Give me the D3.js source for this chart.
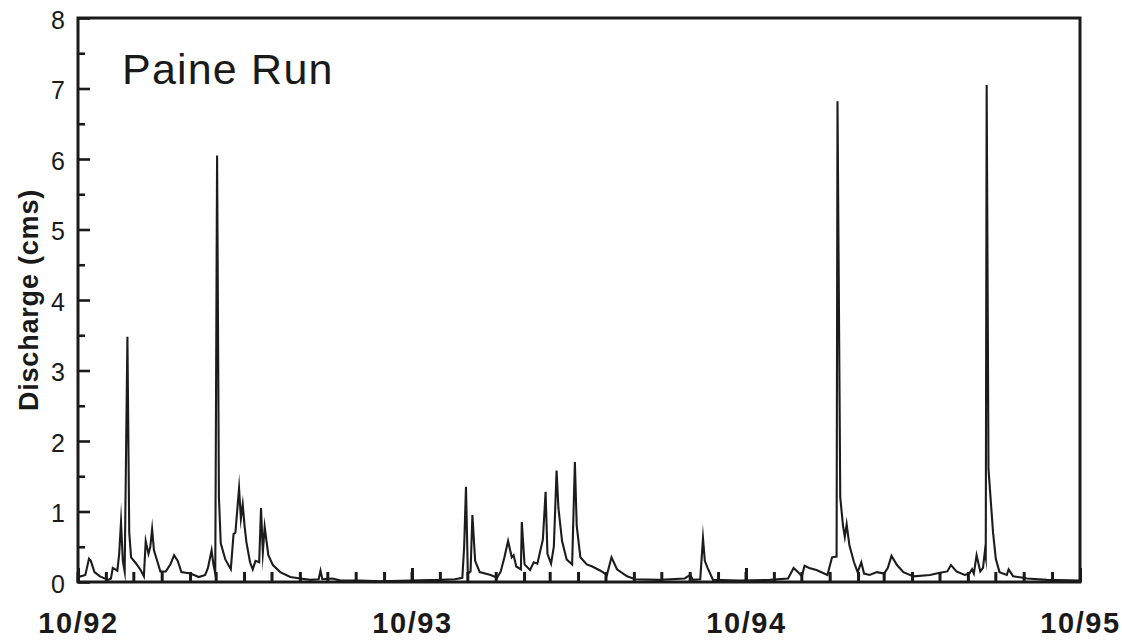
<!DOCTYPE html>
<html>
<head>
<meta charset="utf-8">
<script src="https://cdn.jsdelivr.net/npm/d3@7/dist/d3.min.js"></script>
<style>
  html, body { margin: 0; padding: 0; background: #ffffff; }
  svg { display: block; }
  text { font-family: "Liberation Sans", Arial, Helvetica, sans-serif; fill: #1a1a1a; }
</style>
</head>
<body>
<svg id="chart" width="1122" height="643"></svg>
<script>
// ---- Data ----
const title = "Paine Run";
const yLabel = "Discharge (cms)";
const startDate = "1992-10-01";
const endDate = "1995-10-01";
const yTickValues = [0, 1, 2, 3, 4, 5, 6, 7, 8];
const xTickLabels = ["10/92", "10/93", "10/94", "10/95"];
// days after 1 Oct 1992
const dayOffset = [
  0, 3, 8, 12, 14, 18, 24, 33, 36, 38, 43, 45, 47, 49, 51, 54, 56, 58, 63, 68,
  72, 74, 77, 79, 81, 83, 87, 90, 96, 101, 105, 109, 113, 123, 132, 139, 142, 146, 148, 150,
  152, 154, 156, 161, 167, 170, 172, 176, 178, 180, 182, 184, 188, 191, 194, 198, 200, 202, 204, 208,
  213, 221, 232, 243, 254, 263, 265, 267, 278, 287, 309, 330, 363, 396, 412, 420, 422, 424, 426, 429,
  431, 434, 439, 451, 458, 462, 466, 470, 474, 476, 479, 484, 485, 488, 494, 498, 502, 508, 511, 513,
  517, 520, 523, 525, 529, 534, 540, 543, 545, 549, 556, 562, 571, 578, 583, 589, 600, 609, 636, 663,
  669, 672, 680, 683, 685, 688, 694, 723, 756, 776, 782, 787, 791, 794, 799, 807, 819, 824, 829, 830,
  833, 836, 838, 840, 843, 848, 852, 856, 859, 865, 873, 881, 885, 889, 895, 902, 913, 931, 942, 950,
  954, 960, 969, 974, 977, 979, 982, 986, 989, 991, 992, 993, 995, 997, 1000, 1003, 1007, 1015, 1017, 1022,
  1033, 1037, 1059, 1095
];
const discharge = [
  0.08, 0.08, 0.10, 0.33, 0.30, 0.14, 0.08, 0.03, 0.05, 0.20, 0.16, 0.40, 0.85, 0.30, 0.15, 3.48, 0.70, 0.35, 0.27, 0.18,
  0.08, 0.58, 0.40, 0.50, 0.75, 0.45, 0.28, 0.15, 0.15, 0.25, 0.38, 0.30, 0.14, 0.12, 0.07, 0.10, 0.20, 0.45, 0.25, 0.12,
  6.05, 1.20, 0.55, 0.32, 0.18, 0.68, 0.70, 1.33, 0.90, 1.10, 0.80, 0.57, 0.28, 0.18, 0.30, 0.28, 1.05, 0.42, 0.78, 0.38,
  0.24, 0.14, 0.07, 0.05, 0.03, 0.04, 0.16, 0.04, 0.05, 0.02, 0.02, 0.01, 0.02, 0.03, 0.04, 0.06, 0.50, 1.35, 0.12, 0.15,
  0.95, 0.30, 0.14, 0.10, 0.06, 0.15, 0.35, 0.58, 0.35, 0.38, 0.22, 0.18, 0.85, 0.25, 0.17, 0.28, 0.26, 0.60, 1.28, 0.40,
  0.26, 0.50, 1.58, 1.05, 0.58, 0.32, 0.25, 1.70, 0.80, 0.35, 0.25, 0.22, 0.16, 0.10, 0.35, 0.18, 0.08, 0.04, 0.03, 0.05,
  0.10, 0.03, 0.04, 0.62, 0.30, 0.20, 0.03, 0.02, 0.03, 0.05, 0.20, 0.14, 0.08, 0.23, 0.20, 0.17, 0.10, 0.35, 0.36, 6.82,
  1.20, 0.80, 0.64, 0.82, 0.52, 0.28, 0.14, 0.28, 0.12, 0.10, 0.14, 0.12, 0.20, 0.37, 0.24, 0.14, 0.08, 0.10, 0.13, 0.15,
  0.24, 0.15, 0.10, 0.12, 0.18, 0.12, 0.38, 0.15, 0.20, 0.43, 0.35, 7.05, 1.60, 1.24, 0.70, 0.33, 0.14, 0.10, 0.18, 0.08,
  0.06, 0.05, 0.03, 0.02
];

// ---- Drawing ----
const svg = d3.select("#chart");
const mLeft = 78, mRight = 1080, mTop = 18, mBottom = 582;
const parse = d3.timeParse("%Y-%m-%d");
const t0 = parse(startDate), t1 = parse(endDate);

const x = d3.scaleTime().domain([t0, t1]).range([mLeft, mRight]);
const y = d3.scaleLinear().domain([0, 8]).range([mBottom, mTop]);

const points = dayOffset.map((d, i) => ({ date: d3.timeDay.offset(t0, d), v: discharge[i] }));

// data line
const line = d3.line().x(d => x(d.date)).y(d => y(d.v)).curve(d3.curveLinear);
svg.append("path")
  .datum(points)
  .attr("d", line)
  .attr("fill", "none")
  .attr("stroke", "#1c1c1c")
  .attr("stroke-width", 2.1)
  .attr("stroke-linejoin", "miter")
  .attr("stroke-miterlimit", 20);

// minor y ticks (0.5 steps)
const yMinor = d3.axisLeft(y).tickValues(d3.range(0.5, 8, 1)).tickSize(-7).tickFormat("");
svg.append("g").attr("transform", `translate(${mLeft},0)`).call(yMinor)
  .call(g => g.select(".domain").remove())
  .call(g => g.selectAll("line").attr("stroke", "#1a1a1a").attr("stroke-width", 2.6));

// major y ticks
const yAxis = d3.axisLeft(y).tickValues(yTickValues).tickSize(-12).tickPadding(13).tickFormat(d3.format("d"));
svg.append("g").attr("transform", `translate(${mLeft},0)`).call(yAxis)
  .call(g => g.select(".domain").remove())
  .call(g => g.selectAll("line").attr("stroke", "#1a1a1a").attr("stroke-width", 2.6))
  .call(g => g.selectAll("text")
    .style("font-size", "25px")
    .attr("dy", "0.40em"));

// monthly x ticks (drawn from the time scale)
const months = d3.timeMonth.range(t0, t1);
svg.append("g").attr("class", "month-ticks")
  .selectAll("line")
  .data(months)
  .join("line")
  .attr("x1", d => x(d)).attr("x2", d => x(d))
  .attr("y1", mBottom).attr("y2", mBottom - 10)
  .attr("stroke", "#1a1a1a").attr("stroke-width", 3);

// yearly x ticks with labels
const yearTicks = xTickLabels.map((_, i) => d3.timeYear.offset(t0, i));
const xAxis = d3.axisBottom(x).tickValues(yearTicks).tickSize(-14).tickPadding(30)
  .tickFormat((d, i) => xTickLabels[i]);
svg.append("g").attr("transform", `translate(0,${mBottom})`).call(xAxis)
  .call(g => g.select(".domain").remove())
  .call(g => g.selectAll("line").attr("stroke", "#1a1a1a").attr("stroke-width", 3))
  .call(g => g.selectAll("text")
    .style("font-size", "29px")
    .style("font-weight", "bold")
    .style("letter-spacing", "1.6px")
    .attr("dy", "0.71em"));

// frame
svg.append("rect")
  .attr("x", mLeft).attr("y", mTop)
  .attr("width", mRight - mLeft).attr("height", mBottom - mTop)
  .attr("fill", "none").attr("stroke", "#1a1a1a").attr("stroke-width", 3);

// title
svg.append("text")
  .attr("x", 122).attr("y", 84)
  .style("font-size", "43px")
  .style("letter-spacing", "1.2px")
  .text(title);

// y label
svg.append("text")
  .attr("transform", `translate(38,${(mTop + mBottom) / 2}) rotate(-90)`)
  .attr("text-anchor", "middle")
  .style("font-size", "27px")
  .style("font-weight", "bold")
  .style("letter-spacing", "0.8px")
  .text(yLabel);
</script>
</body>
</html>
